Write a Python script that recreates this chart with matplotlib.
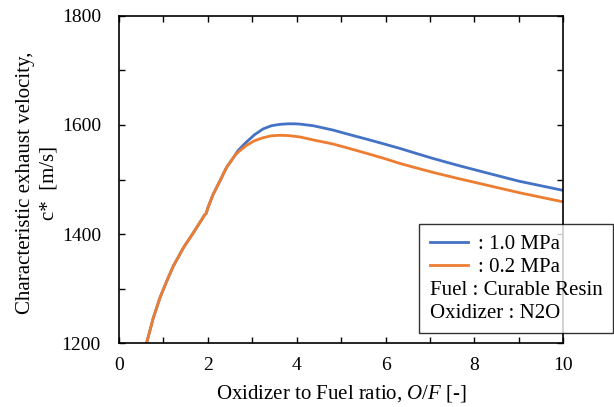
import matplotlib
matplotlib.use("Agg")
import matplotlib.pyplot as plt
from matplotlib.lines import Line2D
from matplotlib.ticker import MultipleLocator

plt.rcParams['font.family'] = ['Liberation Serif', 'DejaVu Serif']
plt.rcParams['mathtext.fontset'] = 'custom'
plt.rcParams['mathtext.rm'] = 'Liberation Serif'
plt.rcParams['mathtext.it'] = 'Liberation Serif:italic'

# both pressures share the same curve below O/F ~ 2.6
of_common = [0.62, 0.77, 0.92, 1.07, 1.22, 1.45, 1.67, 1.935, 1.96, 2.0, 2.12, 2.27, 2.42, 2.6]
cs_common = [1200, 1246, 1283, 1313, 1341, 1375, 1402, 1436, 1437.5, 1448, 1473, 1497, 1522, 1543]

of_hi = [2.68, 2.86, 3.05, 3.24, 3.43, 3.62, 3.8, 3.95, 4.07, 4.37, 4.82, 5.2, 5.57,
         5.95, 6.32, 6.7, 7.07, 7.6, 8.26, 9.0, 10.0]
cs_hi = [1553, 1568, 1582, 1592.5, 1598.5, 1601, 1602, 1602, 1601.5, 1598.5, 1590.5, 1582, 1574,
         1565.5, 1557, 1547.5, 1538.5, 1526.5, 1512.5, 1497, 1480]

of_lo = [2.68, 2.86, 3.05, 3.24, 3.43, 3.62, 3.8, 4.07, 4.37, 4.82, 5.2, 5.57,
         5.95, 6.32, 6.7, 7.07, 7.6, 8.26, 9.0, 10.0]
cs_lo = [1550, 1562, 1571, 1576.5, 1580, 1581, 1580.5, 1578, 1572.5, 1565, 1556.5, 1548,
         1539, 1529.5, 1521, 1513, 1502.5, 1490, 1476, 1459]

labels = [': 1.0 MPa', ': 0.2 MPa', 'Fuel : Curable Resin', 'Oxidizer : N2O']
colors = ['#4472C4', '#ED7D31']

fig = plt.figure(figsize=(6.14, 4.07), dpi=100)
ax = fig.add_axes([0.1938, 0.1565, 0.7236, 0.8049])

ax.plot(of_common + of_hi, cs_common + cs_hi, color=colors[0], lw=2.0)
ax.plot(of_common + of_lo, cs_common + cs_lo, color=colors[1], lw=2.0)

ax.set_xlim(0, 10)
ax.set_ylim(1200, 1800)
ax.xaxis.set_major_locator(MultipleLocator(2))
ax.xaxis.set_minor_locator(MultipleLocator(1))
ax.yaxis.set_major_locator(MultipleLocator(200))
ax.yaxis.set_minor_locator(MultipleLocator(100))
ax.tick_params(which='both', direction='in', top=True, right=True, length=4, width=1)
ax.tick_params(axis='x', labelsize=14, pad=10)
ax.tick_params(axis='y', labelsize=14, pad=13)
for s in ax.spines.values():
    s.set_linewidth(1.2)

ax.set_xlabel('Oxidizer to Fuel ratio, $O/F$ [-]', fontsize=15)
ax.xaxis.set_label_coords(0.5, -0.122)
ax.set_ylabel('Characteristic exhaust velocity,\nc*  [m/s]', fontsize=15, linespacing=1.3)
ax.yaxis.set_label_coords(-0.137, 0.489)

handles = [Line2D([], [], color=colors[0], lw=2),
           Line2D([], [], color=colors[1], lw=2),
           Line2D([], [], linestyle='none'),
           Line2D([], [], linestyle='none')]
leg = fig.legend(handles, labels, loc='lower right', bbox_to_anchor=(0.998, 0.182),
                 fontsize=15, frameon=True, fancybox=False, edgecolor='black',
                 handlelength=1.85, handletextpad=0.45, labelspacing=0.15,
                 borderpad=0.5, borderaxespad=0)
leg.get_frame().set_linewidth(1.0)
# text-only entries start where the line samples start
for row in leg._legend_handle_box.get_children()[0].get_children()[2:]:
    row.get_children()[0].width = 0
    row.sep = 0

fig.savefig('out.png', dpi=100)
